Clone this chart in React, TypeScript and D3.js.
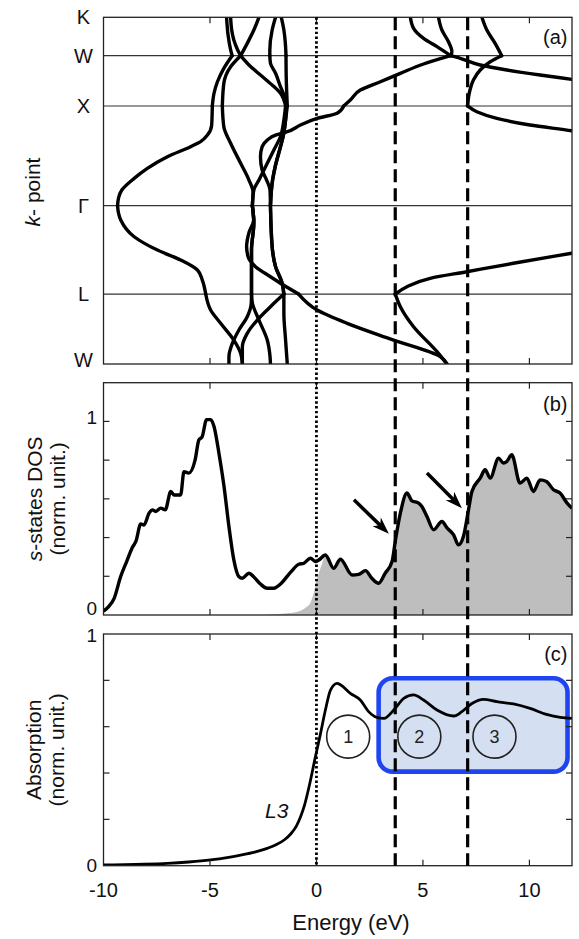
import React from "react";
import * as d3 from "d3";

type Pt = [number, number];

// ---------- axes / annotations ----------
const energyTicks = [-10, -5, 0, 5, 10];
const frameTicks = [-5, 0, 5, 10];
const kNames = ["K", "W", "X", "Γ", "L", "W"];
const kPos = [0, 0.383, 0.885, 1.88, 2.762, 3.46];
const fermiLevel = 0;
const edgeEnergies = [3.7, 7.1];
const dosTickValues = [0.2, 0.4, 0.6, 0.8, 1.0];
const absTickValues = [0.2, 0.4, 0.6, 0.8];

// ---------- band structure: [k, E] ----------
const band1: Pt[] = [[0,-4.22],[0.177,-4.15],[0.326,-4.03],[0.383,-3.96],[0.509,-4.35],[0.643,-4.65],[0.758,-4.81],[0.885,-4.89],[1.075,-4.92],[1.175,-5.12],[1.241,-5.44],[1.291,-5.91],[1.391,-7.0],[1.507,-7.94],[1.607,-8.56],[1.724,-9.14],[1.8,-9.29],[1.88,-9.34],[1.96,-9.29],[2.023,-9.19],[2.19,-8.56],[2.323,-7.47],[2.422,-6.38],[2.522,-5.59],[2.622,-5.36],[2.762,-5.2],[2.921,-4.97],[3.054,-4.5],[3.221,-3.88],[3.353,-3.56],[3.46,-3.48]];
const band2: Pt[] = [[0,-4.03],[0.127,-3.98],[0.227,-3.88],[0.326,-3.7],[0.383,-3.56],[0.476,-3.17],[0.576,-2.63],[0.676,-2.08],[0.758,-1.69],[0.885,-1.45],[1.025,-1.53],[1.192,-1.69],[1.324,-2.0],[1.491,-2.39],[1.624,-2.7],[1.724,-2.94],[1.88,-3.01],[2.053,-2.94],[2.323,-3.05],[2.762,-3.05],[2.851,-3.06],[2.988,-3.25],[3.121,-3.64],[3.254,-3.95],[3.387,-4.11],[3.46,-4.11]];
const band3: Pt[] = [[0,-2.7],[0.127,-2.94],[0.26,-3.25],[0.383,-3.56],[0.493,-4.03],[0.659,-4.35],[0.885,-4.42],[1.092,-4.35],[1.257,-4.03],[1.457,-3.56],[1.624,-3.17],[1.744,-2.98],[1.88,-3.01],[2.023,-2.95],[2.143,-3.16],[2.29,-3.28],[2.39,-3.21],[2.489,-2.86],[2.589,-2.16],[2.672,-1.55],[2.762,-0.84],[2.921,0.03],[3.054,1.44],[3.221,3.62],[3.387,5.81],[3.46,6.13]];
const band4: Pt[] = [[0,-1.92],[0.127,-2.08],[0.326,-2.19],[0.383,-2.19],[0.459,-2.16],[0.559,-1.92],[0.693,-1.69],[0.792,-1.5],[0.885,-1.42],[1.025,-1.45],[1.175,-1.55],[1.324,-1.73],[1.474,-1.92],[1.624,-2.06],[1.88,-2.16],[2.29,-2.08],[2.489,-1.92],[2.655,-1.61],[2.762,-1.53],[2.951,-1.53],[3.221,-1.45],[3.46,-1.37]];
const band5: Pt[] = [[0,-1.65],[0.127,-1.53],[0.293,-1.45],[0.383,-1.43],[0.593,-1.42],[0.885,-1.37],[1.025,-1.45],[1.175,-1.55],[1.324,-1.73],[1.474,-1.92],[1.624,-2.06],[1.88,-2.16],[2.29,-2.08],[2.489,-1.92],[2.655,-1.61],[2.762,-1.53],[2.888,-2.16],[3.021,-2.78],[3.154,-3.25],[3.287,-3.48],[3.46,-3.48]];
const band6: Pt[] = [[0,5.73],[0.127,5.89],[0.244,6.2],[0.343,6.36],[0.383,6.3],[0.466,5.03],[0.559,3.94],[0.643,3.0],[0.726,2.06],[0.825,1.59],[0.885,1.28],[0.958,0.97],[1.008,0.03],[1.075,-0.75],[1.142,-1.37],[1.175,-1.92],[1.225,-2.31],[1.291,-2.55],[1.391,-2.63],[1.524,-2.55],[1.624,-2.34],[1.724,-2.18],[1.88,-2.16]];
const band7: Pt[] = [[1.88,-3.01],[2.053,-2.94],[2.323,-3.05],[2.762,-3.05],[2.851,-3.01],[3.021,-2.7],[3.221,-2.31],[3.387,-2.18],[3.46,-2.16]];
const band8: Pt[] = [[0,4.41],[0.11,4.56],[0.21,5.03],[0.293,5.66],[0.383,6.3],[0.409,6.75],[0.476,7.69],[0.526,8.94],[0.576,10.5],[0.619,11.99],[0.66,13.4]];
const band9: Pt[] = [[0,7.77],[0.127,8.0],[0.26,8.39],[0.383,8.7],[0.443,8.16],[0.526,7.69],[0.626,7.37],[0.743,7.19],[0.885,7.09],[0.942,7.53],[1.008,8.47],[1.075,10.03],[1.132,11.99],[1.19,13.6]];
const band10: Pt[] = [[2.3,13.5],[2.355,11.99],[2.455,9.25],[2.539,7.06],[2.605,5.34],[2.689,4.25],[2.762,3.7],[2.888,3.94],[3.088,4.56],[3.337,5.66],[3.46,6.13]];
const bands = [band1, band2, band3, band4, band5, band6, band7, band8, band9, band10];

// ---------- s-states DOS: [E, DOS] ----------
const dosS: Pt[] = [[-10,0.02],[-9.75,0.045],[-9.5,0.086],[-9.19,0.2],[-8.9,0.28],[-8.64,0.35],[-8.48,0.38],[-8.25,0.47],[-8.1,0.465],[-7.86,0.526],[-7.7,0.543],[-7.55,0.535],[-7.31,0.552],[-7.1,0.543],[-6.84,0.638],[-6.69,0.62],[-6.38,0.62],[-6.22,0.74],[-6.0,0.733],[-5.7,0.8],[-5.52,0.905],[-5.37,0.92],[-5.16,1.009],[-4.97,1.009],[-4.81,0.974],[-4.58,0.836],[-4.34,0.664],[-4.11,0.457],[-3.88,0.285],[-3.64,0.198],[-3.48,0.19],[-3.17,0.216],[-2.95,0.198],[-2.63,0.16],[-2.31,0.138],[-2.0,0.138],[-1.69,0.16],[-1.22,0.22],[-0.83,0.262],[-0.6,0.267],[-0.28,0.293],[-0.05,0.276],[0.11,0.284],[0.42,0.31],[0.81,0.241],[1.125,0.288],[1.67,0.207],[1.98,0.21],[2.3,0.229],[2.6,0.19],[2.92,0.164],[3.23,0.216],[3.55,0.276],[3.7,0.38],[3.94,0.526],[4.25,0.63],[4.48,0.59],[4.8,0.578],[4.95,0.56],[5.19,0.509],[5.5,0.44],[5.89,0.483],[6.13,0.45],[6.44,0.414],[6.67,0.362],[6.9,0.405],[7.14,0.543],[7.3,0.638],[7.69,0.707],[7.92,0.75],[8.16,0.707],[8.55,0.81],[8.78,0.785],[8.94,0.793],[9.17,0.828],[9.56,0.681],[9.88,0.707],[10.19,0.638],[10.5,0.698],[10.8,0.69],[11.13,0.647],[11.44,0.63],[11.77,0.578],[12,0.552]];
// unoccupied part below the Fermi level (broadened onset)
const dosOnset: Pt[] = [[-2.6,0],[-2.0,0.004],[-1.5,0.008],[-1.0,0.014],[-0.7,0.025],[-0.45,0.043],[-0.3,0.06],[-0.2,0.086],[-0.1,0.125],[-0.05,0.155],[0.05,0.195],[0.11,0.216],[0.2,0.245],[0.27,0.267],[0.35,0.295]];

// ---------- L3-edge absorption: [E, mu] ----------
const absorption: Pt[] = [[-10,0.003],[-8.5,0.006],[-7.0,0.01],[-6,0.016],[-4.97,0.025],[-4.2,0.035],[-3.56,0.046],[-2.9,0.059],[-2.31,0.075],[-1.9,0.09],[-1.5,0.112],[-1.2,0.138],[-0.95,0.17],[-0.75,0.21],[-0.55,0.265],[-0.3,0.36],[-0.05,0.47],[0.19,0.57],[0.42,0.672],[0.66,0.758],[0.97,0.787],[1.14,0.78],[1.59,0.744],[2.06,0.715],[2.45,0.665],[2.84,0.64],[3.17,0.636],[3.63,0.672],[4.1,0.722],[4.56,0.737],[5.03,0.715],[5.66,0.672],[6.45,0.646],[6.83,0.665],[7.3,0.7],[7.84,0.718],[8.47,0.708],[9.25,0.698],[10.03,0.679],[10.8,0.653],[11.45,0.64],[12,0.636]];

const featureLabels = ["1", "2", "3"];
const featureEnergies = [1.49, 4.83, 8.36];
const featureLevel = 0.557;
const highlightE = [2.92, 11.79];
const highlightV = [0.406, 0.809];
const arrowFrom: Pt[] = [[1.76, 0.595], [5.19, 0.733]];
const arrowTo: Pt[] = [[3.4, 0.42], [6.83, 0.552]];

// ---------- layout ----------
const W = 579, H = 939;
const L = 103.5, R = 572;
const aTop = 17.3, aBot = 364;
const bTop = 382.7, bBot = 615;
const cTop = 634, cBot = 865.7;
const FONT = "'Liberation Sans', Arial, Helvetica, sans-serif";

const x = d3.scaleLinear().domain([-10, 12]).range([L, R]);
const ya = d3.scaleLinear().domain([0, 3.46]).range([aTop, aBot]);
const yb = d3.scaleLinear().domain([0, 1.2]).range([bBot, bTop]);
const yc = d3.scaleLinear().domain([0, 1]).range([cBot, cTop]);

function splitAtSymmetry(pts: Pt[]): Pt[][] {
  const segs: Pt[][] = [];
  let cur: Pt[] = [];
  pts.forEach((p, i) => {
    cur.push(p);
    const atSym = kPos.some((k) => Math.abs(k - p[0]) < 1e-9);
    if (atSym && i > 0 && i < pts.length - 1) {
      segs.push(cur);
      cur = [p];
    }
  });
  if (cur.length > 1) segs.push(cur);
  return segs;
}

const bandLine = d3
  .line<Pt>()
  .x((d) => x(d[1]))
  .y((d) => ya(d[0]))
  .curve(d3.curveMonotoneY);

const dosLine = d3
  .line<Pt>()
  .x((d) => x(d[0]))
  .y((d) => yb(d[1]))
  .curve(d3.curveMonotoneX);

const dosArea = d3
  .area<Pt>()
  .x((d) => x(d[0]))
  .y0(yb(0))
  .y1((d) => yb(d[1]))
  .curve(d3.curveMonotoneX);

const absLine = d3
  .line<Pt>()
  .x((d) => x(d[0]))
  .y((d) => yc(d[1]))
  .curve(d3.curveMonotoneX);

const frameStroke = "#222";

function Frame({ top, bottom }: { top: number; bottom: number }) {
  return (
    <rect x={L} y={top} width={R - L} height={bottom - top} fill="none" stroke={frameStroke} strokeWidth={1.3} />
  );
}

function XTicks({ top, bottom }: { top: number; bottom: number }) {
  return (
    <g stroke={frameStroke} strokeWidth={1.2}>
      {frameTicks.map((t) => (
        <g key={t}>
          <line x1={x(t)} x2={x(t)} y1={top} y2={top + 6} />
          <line x1={x(t)} x2={x(t)} y1={bottom} y2={bottom - 6} />
        </g>
      ))}
    </g>
  );
}

function YTicks({ values, scale }: { values: number[]; scale: d3.ScaleLinear<number, number> }) {
  return (
    <g stroke={frameStroke} strokeWidth={1.2}>
      {values.map((v) => (
        <g key={v}>
          <line x1={L} x2={L + 6} y1={scale(v)} y2={scale(v)} />
          <line x1={R} x2={R - 6} y1={scale(v)} y2={scale(v)} />
        </g>
      ))}
    </g>
  );
}

function Arrow({ from, to }: { from: Pt; to: Pt }) {
  const x1 = x(from[0]), y1 = yb(from[1]);
  const x2 = x(to[0]), y2 = yb(to[1]);
  const ang = Math.atan2(y2 - y1, x2 - x1);
  const len = 17, half = 6, notch = 5;
  const ux = Math.cos(ang), uy = Math.sin(ang);
  const px = -uy, py = ux;
  const bx = x2 - ux * len, by = y2 - uy * len;
  const head = [
    [x2, y2],
    [bx + px * half, by + py * half],
    [x2 - ux * (len - notch), y2 - uy * (len - notch)],
    [bx - px * half, by - py * half],
  ]
    .map((p) => p.join(","))
    .join(" ");
  return (
    <g>
      <line x1={x1} y1={y1} x2={x2 - ux * 8} y2={y2 - uy * 8} stroke="#000" strokeWidth={3.5} />
      <polygon points={head} fill="#000" />
    </g>
  );
}

export default function App() {
  const greyPts: Pt[] = [...dosOnset, ...dosS.filter((d) => d[0] >= 0.42)];
  const rx0 = x(highlightE[0]), rx1 = x(highlightE[1]);
  const ry0 = yc(highlightV[1]), ry1 = yc(highlightV[0]);

  return (
    <svg
      width={W}
      height={H}
      viewBox={`0 0 ${W} ${H}`}
      style={{ position: "absolute", left: 0, top: 0, background: "#fff" }}
      fontFamily={FONT}
    >
      <defs>
        <clipPath id="clipA">
          <rect x={L} y={aTop} width={R - L} height={aBot - aTop} />
        </clipPath>
        <clipPath id="clipB">
          <rect x={L} y={bTop} width={R - L} height={bBot - bTop} />
        </clipPath>
        <clipPath id="clipC">
          <rect x={L} y={cTop} width={R - L} height={cBot - cTop} />
        </clipPath>
      </defs>
      <rect x={0} y={0} width={W} height={H} fill="#fff" />

      {/* ===== (a) band structure ===== */}
      <g>
        {kPos.slice(1, -1).map((k, i) => (
          <line key={i} x1={L} x2={R} y1={ya(k)} y2={ya(k)} stroke="#333" strokeWidth={1.2} />
        ))}
        <g clipPath="url(#clipA)" fill="none" stroke="#000" strokeWidth={3.4} strokeLinejoin="round" strokeLinecap="round">
          {bands.map((b, i) =>
            splitAtSymmetry(b).map((seg, j) => <path key={`${i}-${j}`} d={bandLine(seg) || ""} />)
          )}
        </g>
        <Frame top={aTop} bottom={aBot} />
        <XTicks top={aTop} bottom={aBot} />
        {kNames.map((n, i) => (
          <text
            key={i}
            x={83.5}
            y={ya(kPos[i]) + (i === kNames.length - 1 ? 3 : 7)}
            textAnchor="middle"
            fontSize={20}
            fill="#111"
          >
            {n}
          </text>
        ))}
        <text transform={`translate(40,192) rotate(-90)`} textAnchor="middle" fontSize={21} fill="#111">
          <tspan fontStyle="italic">k</tspan>- point
        </text>
        <text x={567.5} y={44} textAnchor="end" fontSize={20} fill="#111">(a)</text>
      </g>

      {/* ===== (b) s-states DOS ===== */}
      <g>
        <g clipPath="url(#clipB)">
          <path d={dosArea(greyPts) || ""} fill="#bebebe" />
          <path d={dosLine(dosS) || ""} fill="none" stroke="#000" strokeWidth={3.4} strokeLinejoin="round" />
        </g>
        <Frame top={bTop} bottom={bBot} />
        <XTicks top={bTop} bottom={bBot} />
        <YTicks values={dosTickValues} scale={yb} />
        <text x={97} y={yb(1) + 3} textAnchor="end" fontSize={19} fill="#111">1</text>
        <text x={97} y={bBot} textAnchor="end" fontSize={19} fill="#111">0</text>
        {arrowFrom.map((f, i) => (
          <Arrow key={i} from={f} to={arrowTo[i]} />
        ))}
        <text transform={`translate(42,${(bTop + bBot) / 2}) rotate(-90)`} textAnchor="middle" fontSize={21} fill="#111">
          <tspan fontStyle="italic">s</tspan>-states DOS
        </text>
        <text transform={`translate(65,${(bTop + bBot) / 2}) rotate(-90)`} textAnchor="middle" fontSize={21} fill="#111">
          (norm. unit.)
        </text>
        <text x={567.5} y={411} textAnchor="end" fontSize={20} fill="#111">(b)</text>
      </g>

      {/* ===== (c) absorption ===== */}
      <g>
        <rect
          x={rx0}
          y={ry0}
          width={rx1 - rx0}
          height={ry1 - ry0}
          rx={14}
          ry={14}
          fill="#d4e0f2"
          stroke="#1f45f0"
          strokeWidth={4.6}
        />
        <g clipPath="url(#clipC)">
          <path d={absLine(absorption) || ""} fill="none" stroke="#000" strokeWidth={2.8} strokeLinejoin="round" />
        </g>
        {featureLabels.map((lab, i) => (
          <g key={lab}>
            <circle
              cx={x(featureEnergies[i])}
              cy={yc(featureLevel)}
              r={21.5}
              fill={i === 0 ? "#fff" : "none"}
              stroke="#222"
              strokeWidth={1.6}
            />
            <text
              x={x(featureEnergies[i])}
              y={yc(featureLevel) + 6.5}
              textAnchor="middle"
              fontSize={18}
              fill="#222"
            >
              {lab}
            </text>
          </g>
        ))}
        <Frame top={cTop} bottom={cBot} />
        <XTicks top={cTop} bottom={cBot} />
        <YTicks values={absTickValues} scale={yc} />
        <text x={97} y={cTop + 7.5} textAnchor="end" fontSize={19} fill="#111">1</text>
        <text x={97} y={cBot + 6.5} textAnchor="end" fontSize={19} fill="#111">0</text>
        <text x={265} y={818} fontSize={21} fontStyle="italic" fill="#111">L3</text>
        <text transform={`translate(41,${(cTop + cBot) / 2}) rotate(-90)`} textAnchor="middle" fontSize={21} fill="#111">
          Absorption
        </text>
        <text transform={`translate(64,${(cTop + cBot) / 2}) rotate(-90)`} textAnchor="middle" fontSize={21} fill="#111">
          (norm. unit.)
        </text>
        <text x={567.5} y={661} textAnchor="end" fontSize={20} fill="#111">(c)</text>
        {energyTicks.map((t) => (
          <text key={t} x={x(t)} y={896.5} textAnchor="middle" fontSize={20} fill="#111">
            {t}
          </text>
        ))}
        <text x={351} y={930} textAnchor="middle" fontSize={22} fill="#111">Energy (eV)</text>
      </g>

      {/* ===== reference energies across all panels ===== */}
      <line
        x1={x(fermiLevel)}
        x2={x(fermiLevel)}
        y1={aTop}
        y2={cBot}
        stroke="#000"
        strokeWidth={2.8}
        strokeDasharray="2.4,2.4"
      />
      {edgeEnergies.map((e) => (
        <line
          key={e}
          x1={x(e)}
          x2={x(e)}
          y1={aTop}
          y2={cBot}
          stroke="#000"
          strokeWidth={3.2}
          strokeDasharray="13,6"
        />
      ))}
    </svg>
  );
}
